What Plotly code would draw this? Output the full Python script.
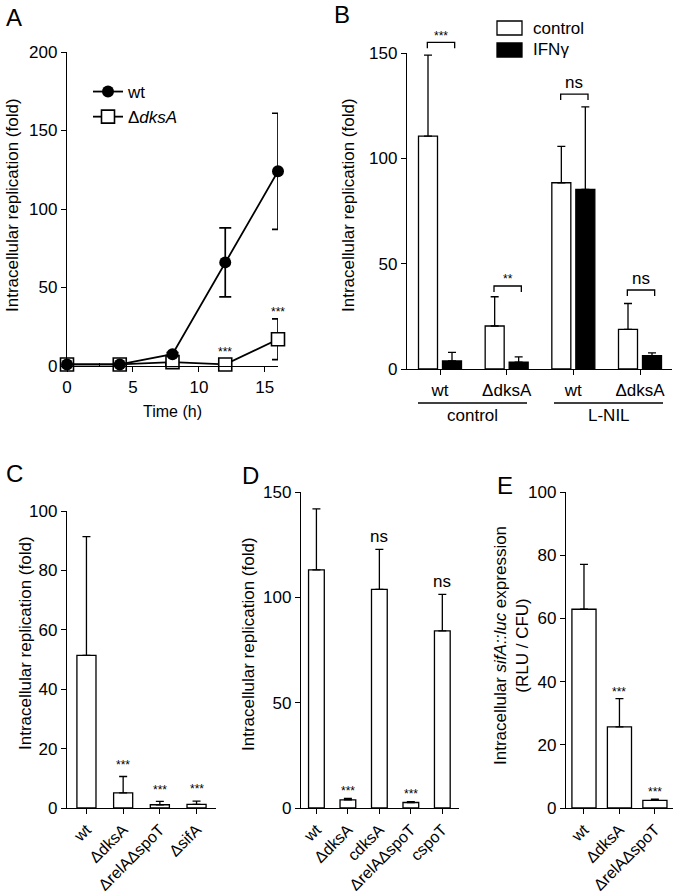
import plotly.graph_objects as go

W, H = 675, 894
FONT = "Liberation Sans, Arial, sans-serif"

# ---- data ----
# A: time course
time_h = [0, 4, 8, 12, 16]
wt_fold = [1, 1, 7.5, 66, 124]
wt_sd = [0, 0, 1, 22, 37]
dksa_fold = [1, 1, 2.5, 1, 17]
dksa_sd = [0, 0, 1, 0.5, 13]

# B: control vs IFNgamma, with/without L-NIL
b_groups = ["wt", "ΔdksA", "wt", "ΔdksA"]
b_control = [110.5, 20.4, 88.4, 18.8]
b_control_sd = [38.5, 13.9, 17.3, 12.3]
b_ifng = [3.8, 3.2, 85.2, 6.3]
b_ifng_sd = [4.1, 2.6, 39.2, 1.4]
b_sig = ["***", "**", "ns", "ns"]
b_sig_y = [155, 39.4, 130.5, 37.5]

# C
c_strains = ["wt", "ΔdksA", "ΔrelAΔspoT", "ΔsifA"]
c_fold = [51.4, 5.1, 1.1, 1.2]
c_sd = [40, 5.5, 1.1, 1.1]
c_sig = ["", "***", "***", "***"]

# D
d_strains = ["wt", "ΔdksA", "cdksA", "ΔrelAΔspoT", "cspoT"]
d_fold = [113, 3.9, 103.8, 2.6, 84.1]
d_sd = [29, 0.6, 19, 0.4, 17.3]
d_sig = ["", "***", "ns", "***", "ns"]

# E
e_strains = ["wt", "ΔdksA", "ΔrelAΔspoT"]
e_expr = [62.9, 25.7, 2.4]
e_sd = [14.2, 8.9, 0.4]
e_sig = ["", "***", "***"]


def px(x):
    return x / W


def py(y):
    return 1 - y / H


# panel B frame in pixels, used to put brackets above the axis range
B_X0, B_X1, B_XR = 407, 672, (0.505, 4.48)
B_Y0, B_Y1, B_YR = 369, 53, (0, 150)


def bx(v):
    return px(B_X0 + (v - B_XR[0]) / (B_XR[1] - B_XR[0]) * (B_X1 - B_X0))


def by(v):
    return py(B_Y0 + (v - B_YR[0]) / (B_YR[1] - B_YR[0]) * (B_Y1 - B_Y0))


axis_style = dict(
    showline=True, linecolor="black", linewidth=1.3, ticks="outside",
    ticklen=5, tickwidth=1.3, tickcolor="black", showgrid=False,
    zeroline=False, fixedrange=True,
    tickfont=dict(size=17, family=FONT, color="black"),
)

fig = go.Figure()

# ---- panel A ----
fig.add_trace(go.Scatter(
    x=time_h, y=dksa_fold, name="Δ<i>dksA</i>", mode="lines+markers",
    line=dict(color="black", width=1.8),
    marker=dict(symbol="square", size=13, color="white", line=dict(color="black", width=1.6)),
    error_y=dict(type="data", array=dksa_sd, color="black", thickness=1.7, width=6),
    cliponaxis=False, xaxis="x", yaxis="y", legendrank=2, legendgroup="d",
))
fig.add_trace(go.Scatter(
    x=time_h, y=wt_fold, name="wt", mode="lines+markers",
    line=dict(color="black", width=1.8),
    marker=dict(symbol="circle", size=12, color="black"),
    error_y=dict(type="data", array=wt_sd, color="black", thickness=1.7, width=6),
    cliponaxis=False, xaxis="x", yaxis="y", legendrank=1, legendgroup="w",
))

bar_style = dict(marker=dict(color="white", line=dict(color="black", width=1.3)), showlegend=False)


def err(sd):
    return dict(type="data", array=sd, arrayminus=[0] * len(sd), symmetric=False,
                color="black", thickness=1.3, width=4)


# ---- panel B ----
b_x = [1, 2, 3, 4]
fig.add_trace(go.Bar(x=b_x, y=b_control, width=0.285, offset=-0.3225, error_y=err(b_control_sd),
                     xaxis="x2", yaxis="y2", **bar_style))
fig.add_trace(go.Bar(x=b_x, y=b_ifng, width=0.285, offset=0.0375, error_y=err(b_ifng_sd),
                     marker=dict(color="black", line=dict(color="black", width=1.3)),
                     showlegend=False, xaxis="x2", yaxis="y2"))

# ---- panels C, D, E ----
fig.add_trace(go.Bar(x=list(range(len(c_strains))), y=c_fold, width=0.52, error_y=err(c_sd),
                     xaxis="x3", yaxis="y3", **bar_style))
fig.add_trace(go.Bar(x=list(range(len(d_strains))), y=d_fold, width=0.5, error_y=err(d_sd),
                     xaxis="x4", yaxis="y4", **bar_style))
fig.add_trace(go.Bar(x=list(range(len(e_strains))), y=e_expr, width=0.68, error_y=err(e_sd),
                     xaxis="x5", yaxis="y5", **bar_style))

rot = dict(tickangle=-45, tickfont=dict(size=16, family=FONT, color="black"))

fig.update_layout(
    width=W, height=H, margin=dict(l=0, r=0, t=0, b=0, autoexpand=False),
    paper_bgcolor="white", plot_bgcolor="white",
    font=dict(family=FONT, color="black", size=17),
    showlegend=True,
    legend=dict(x=px(88), y=py(74), xanchor="left", yanchor="top", bgcolor="rgba(0,0,0,0)",
                font=dict(size=17, family=FONT), itemwidth=30, tracegroupgap=0,
                traceorder="grouped"),
    xaxis=dict(axis_style, domain=[px(67), px(278)], range=[0, 16], tickvals=[0, 5, 10, 15],
               minor=dict(tickvals=[2.5, 7.5, 12.5], ticks="inside", ticklen=3, tickcolor="black"),
               anchor="y"),
    yaxis=dict(axis_style, domain=[py(366), py(52)], range=[0, 200], dtick=50, anchor="x"),
    xaxis2=dict(axis_style, domain=[px(B_X0), px(B_X1)], range=list(B_XR), tickvals=b_x,
                ticktext=b_groups, anchor="y2"),
    yaxis2=dict(axis_style, domain=[py(B_Y0), py(B_Y1)], range=list(B_YR), dtick=50, anchor="x2"),
    xaxis3=dict(axis_style, domain=[px(67), px(216)], range=[-0.53, 3.53],
                tickvals=list(range(len(c_strains))), ticktext=c_strains, anchor="y3", **rot),
    yaxis3=dict(axis_style, domain=[py(808), py(511)], range=[0, 100], dtick=20, anchor="x3"),
    xaxis4=dict(axis_style, domain=[px(301), px(459)], range=[-0.49, 4.53],
                tickvals=list(range(len(d_strains))), ticktext=d_strains, anchor="y4", **rot),
    yaxis4=dict(axis_style, domain=[py(808), py(492)], range=[0, 150], dtick=50, anchor="x4"),
    xaxis5=dict(axis_style, domain=[px(566), px(673)], range=[-0.507, 2.51],
                tickvals=list(range(len(e_strains))), ticktext=e_strains, anchor="y5", **rot),
    yaxis5=dict(axis_style, domain=[py(808), py(492)], range=[0, 100], dtick=20, anchor="x5"),
)


def note(text, x, y, size=17, xref="paper", yref="paper", angle=0, xanchor="center", **kw):
    fig.add_annotation(text=text, x=x, y=y, xref=xref, yref=yref, showarrow=False,
                       textangle=angle, xanchor=xanchor, yanchor="middle",
                       font=dict(size=size, family=FONT, color="black"), **kw)


# panel letters
for letter, lx, ly in [("A", 14, 18), ("B", 342, 14), ("C", 14, 473), ("D", 250, 475), ("E", 505, 485)]:
    note(letter, px(lx), py(ly), size=24)

# axis titles
ytitle = "Intracellular replication (fold)"
note(ytitle, px(12), py(205), angle=-90)
note(ytitle, px(348), py(205), angle=-90)
note(ytitle, px(25), py(643), angle=-90)
note(ytitle, px(248), py(644), angle=-90)
note("Intracellular <i>sifA::luc</i> expression<br>(RLU / CFU)", px(511), py(646), angle=-90)
note("Time (h)", px(172), py(411), size=16)

# panel A significance
note("***", 12, 8.9, size=12, xref="x", yref="y")
note("***", 16, 34.4, size=12, xref="x", yref="y")

# panel B brackets and group labels
for g, lab, top in zip(b_x, b_sig, b_sig_y):
    x0, x1 = bx(g - 0.19), bx(g + 0.22)
    y_top, y_leg = by(top), by(top - 2.8)
    fig.add_shape(type="path", xref="paper", yref="paper",
                  path=f"M {x0},{y_leg} L {x0},{y_top} L {x1},{y_top} L {x1},{y_leg}",
                  line=dict(color="black", width=1.3))
    note(lab, (x0 + x1) / 2, by(top + 5.5) if lab == "ns" else by(top + 3.2),
         size=17 if lab == "ns" else 12)

for x0, x1, lab in [(418, 527, "control"), (554, 663, "L-NIL")]:
    fig.add_shape(type="line", xref="paper", yref="paper", x0=px(x0), x1=px(x1), y0=py(403), y1=py(403),
                  line=dict(color="black", width=1.3))
    note(lab, px((x0 + x1) / 2), py(416))

# panel B legend
for y0, fill, lab in [(21, "white", "control"), (43, "black", "IFNγ")]:
    fig.add_shape(type="rect", xref="paper", yref="paper", x0=px(497), x1=px(522), y0=py(y0), y1=py(y0 + 14),
                  fillcolor=fill, line=dict(color="black", width=1.3))
    note(lab, px(531), py(y0 + 7), xanchor="left")

# panels C-E significance
for i, s in enumerate(c_sig):
    if s:
        note(s, i, c_fold[i] + c_sd[i] + 4, size=12, xref="x3", yref="y3")
for i, s in enumerate(d_sig):
    if s:
        note(s, i, d_fold[i] + d_sd[i] + (6 if s == "ns" else 3.5), size=17 if s == "ns" else 12,
             xref="x4", yref="y4")
for i, s in enumerate(e_sig):
    if s:
        note(s, i, e_expr[i] + e_sd[i] + 2.2, size=12, xref="x5", yref="y5")

# the page body has an 8px default margin; drop it so the figure fills the window
fig.write_html("out.html", config={"displayModeBar": False},
               post_script="document.body.style.margin = '0px';")
